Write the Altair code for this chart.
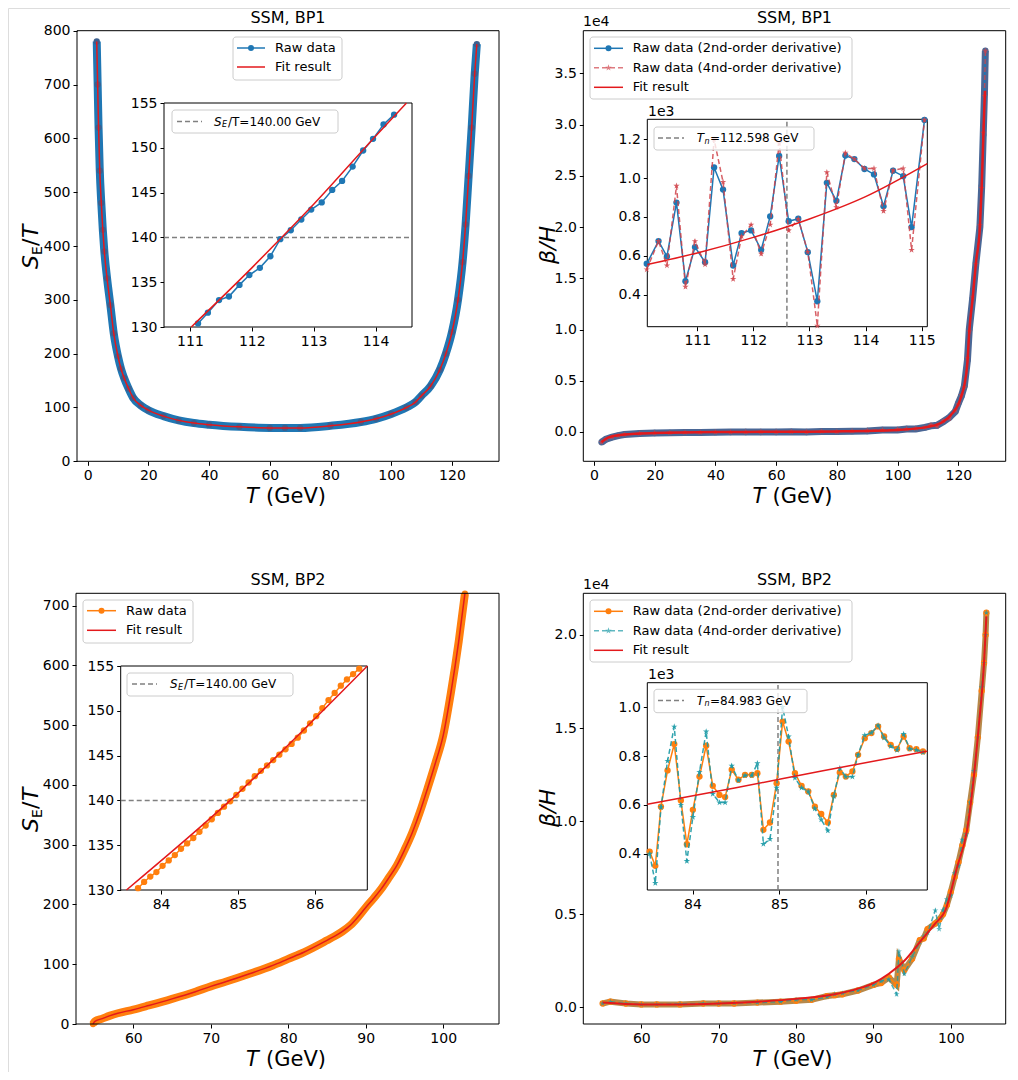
import altair as alt
import pandas as pd

FONT = "DejaVu Sans"
W, H = 1002, 1064
BLUE, ORANGE, RED = "#1f77b4", "#ff7f0e", "#e3191c"
STARC_R, STARC_T = "#d0434a", "#1c9aa6"
STAR = "M0,-1L0.2245,-0.309L0.951,-0.309L0.363,0.118L0.588,0.809L0,0.382L-0.588,0.809L-0.363,0.118L-0.951,-0.309L-0.2245,-0.309Z"

# ---------------- data: BP1, S_E/T ----------------
TL_T = [3.0, 3.3, 3.6, 4.0, 4.5, 5.0, 5.5, 6.4, 7.5, 8.6, 10, 11, 12, 13.5, 15, 17.5, 20, 25, 30, 35, 40, 50, 60, 65, 70, 80, 90, 95, 100, 105, 108, 110, 113, 116, 118, 120, 122, 123.5, 124.5, 125.5, 126.5, 127.5, 128.2]
TL_S = [780, 700, 620, 540, 480, 430, 390, 340, 290, 238, 195, 172, 155, 135, 118, 104, 95, 84, 76, 71, 68, 64, 62, 62, 62, 66, 73, 79, 88, 100, 110, 122, 140, 170, 200, 240, 300, 370, 440, 530, 620, 720, 775]
TLI_T = [111.13, 111.29, 111.47, 111.63, 111.80, 111.96, 112.13, 112.30, 112.46, 112.63, 112.80, 112.96, 113.13, 113.30, 113.46, 113.63, 113.80, 113.96, 114.13, 114.30]
TLI_S = [130.4, 131.6, 133.0, 133.4, 134.7, 135.8, 136.6, 137.9, 139.8, 140.8, 142.0, 143.1, 143.9, 145.3, 146.3, 147.9, 149.7, 151.0, 152.6, 153.7]
TLI_FT = [111.02, 112.0, 112.47, 113.0, 114.0, 114.5]
TLI_FS = [130.0, 136.6, 139.9, 143.7, 151.3, 155.0]

# ---------------- data: BP1, beta/H (1e4) ----------------
TR_T = [2.5, 4, 6, 8, 10, 15, 20, 25, 30, 35, 40, 45, 50, 55, 60, 65, 70, 75, 80, 85, 90, 95, 100, 103, 106, 109, 111, 113, 115, 117, 119, 120, 121, 122, 123, 123.6, 124.7, 125.8, 127.1, 127.7, 128.2, 128.6, 128.9]
TR_V2 = [-0.1, -0.07, -0.05, -0.035, -0.025, -0.015, -0.01, -0.008, -0.005, -0.004, -0.002, -0.001, 0.0, 0.0, 0.0, 0.002, 0.0, 0.005, 0.004, 0.008, 0.01, 0.02, 0.02, 0.03, 0.03, 0.045, 0.06, 0.065, 0.1, 0.14, 0.2, 0.28, 0.35, 0.45, 0.7, 1.0, 1.3, 1.65, 2.0, 2.4, 2.9, 3.3, 3.72]
TR_V4 = [-0.1, -0.07, -0.05, -0.035, -0.025, -0.015, -0.01, -0.008, -0.004, -0.004, -0.001, -0.001, 0.0, 0.002, 0.0, 0.003, 0.0, 0.006, 0.003, 0.01, 0.012, 0.018, 0.025, 0.03, 0.035, 0.045, 0.07, 0.055, 0.11, 0.13, 0.21, 0.27, 0.36, 0.44, 0.72, 0.98, 1.32, 1.64, 2.02, 2.38, 2.92, 3.28, 3.72]
TR_FT = [2.5, 5, 10, 20, 40, 60, 80, 100, 110, 115, 118, 120, 121, 122, 123, 123.6, 124.7, 125.8, 127.1, 127.7, 128.2, 128.6, 128.8]
TR_FV = [-0.1, -0.05, -0.025, -0.01, 0.0, 0.002, 0.006, 0.02, 0.05, 0.1, 0.18, 0.27, 0.35, 0.46, 0.68, 0.98, 1.3, 1.65, 2.0, 2.4, 2.85, 3.2, 3.33]
TRI_T = [110.10, 110.31, 110.46, 110.63, 110.79, 110.96, 111.14, 111.30, 111.46, 111.64, 111.79, 111.96, 112.14, 112.30, 112.46, 112.63, 112.80, 112.97, 113.14, 113.31, 113.48, 113.64, 113.80, 113.98, 114.15, 114.32, 114.49, 114.67, 114.82, 115.05]
TRI_V2 = [0.559, 0.676, 0.597, 0.874, 0.469, 0.645, 0.567, 1.055, 0.941, 0.550, 0.717, 0.731, 0.631, 0.803, 1.114, 0.778, 0.791, 0.619, 0.366, 0.976, 0.883, 1.116, 1.098, 1.047, 1.019, 0.855, 1.038, 1.010, 0.748, 1.300]
TRI_V4 = [0.530, 0.676, 0.550, 0.960, 0.440, 0.675, 0.555, 1.200, 0.980, 0.480, 0.700, 0.760, 0.610, 0.760, 1.180, 0.730, 0.790, 0.620, 0.240, 1.030, 0.850, 1.130, 1.098, 1.050, 1.050, 0.830, 1.040, 1.050, 0.630, 1.300]
TRI_FT = [110.11, 111.0, 112.0, 112.6, 113.0, 114.0, 115.1]
TRI_FV = [0.555, 0.615, 0.695, 0.75, 0.79, 0.905, 1.075]
TN1 = 112.598

# ---------------- data: BP2, S_E/T ----------------
BL_T = [54.8, 55, 56, 57, 58, 60, 62, 65, 68, 70, 72, 75, 78, 80, 82, 85, 86, 87, 88, 89, 90, 91, 92, 93, 94, 95, 96, 97, 98, 99, 100, 101, 102, 102.8]
BL_S = [0, 4, 9, 14, 18, 24, 31, 42, 54, 63, 71, 84, 98, 109, 120, 140, 147, 155, 165, 179, 195, 210, 226, 245, 265, 291, 320, 355, 395, 437, 483, 555, 640, 720]
BLI_T = [83.70, 83.78, 83.86, 83.94, 84.02, 84.10, 84.18, 84.26, 84.34, 84.42, 84.50, 84.58, 84.66, 84.74, 84.82, 84.90, 84.98, 85.06, 85.14, 85.22, 85.30, 85.38, 85.46, 85.54, 85.62, 85.70, 85.78, 85.86, 85.94, 86.02, 86.10, 86.18, 86.26, 86.34, 86.42, 86.50, 86.58]
BLI_S = [130.2, 130.9, 131.5, 132.0, 132.7, 133.3, 133.9, 134.6, 135.2, 135.8, 136.5, 137.2, 137.9, 138.6, 139.3, 139.9, 140.6, 141.3, 142.0, 142.7, 143.3, 143.9, 144.5, 145.1, 145.7, 146.3, 147.0, 147.8, 148.6, 149.4, 150.3, 151.2, 152.0, 152.8, 153.5, 154.1, 154.7]
BLI_FT = [83.55, 84.9, 86.685]
BLI_FS = [130.0, 140.0, 155.0]

# ---------------- data: BP2, beta/H (1e4) ----------------
BR_T = [55, 56, 58, 60, 62, 65, 68, 70, 72, 75, 78, 80, 82, 84, 85, 86, 88, 90, 91, 92, 93, 93.3, 94, 95, 96, 96.5, 97, 98, 98.5, 99, 99.5, 100, 100.5, 101, 101.5, 102, 102.5, 103, 103.5, 104, 104.3, 104.5, 104.6]
BR_V2 = [0.02, 0.03, 0.02, 0.015, 0.015, 0.015, 0.02, 0.02, 0.02, 0.025, 0.03, 0.035, 0.04, 0.06, 0.065, 0.07, 0.09, 0.12, 0.13, 0.16, 0.12, 0.26, 0.2, 0.26, 0.36, 0.37, 0.42, 0.45, 0.47, 0.5, 0.55, 0.62, 0.7, 0.78, 0.87, 0.95, 1.1, 1.25, 1.45, 1.7, 1.85, 2.0, 2.12]
BR_V4 = [0.02, 0.03, 0.02, 0.015, 0.015, 0.018, 0.02, 0.02, 0.022, 0.025, 0.03, 0.04, 0.04, 0.055, 0.07, 0.075, 0.09, 0.12, 0.14, 0.15, 0.07, 0.3, 0.18, 0.27, 0.35, 0.38, 0.4, 0.52, 0.42, 0.52, 0.58, 0.6, 0.72, 0.76, 0.9, 0.93, 1.1, 1.27, 1.45, 1.72, 1.85, 2.0, 2.12]
BR_FT = [55, 60, 65, 70, 75, 80, 85, 88, 90, 92, 94, 96, 98, 99.3, 100.8, 102.1, 103.6, 104.3, 104.6]
BR_FV = [0.025, 0.015, 0.015, 0.02, 0.03, 0.045, 0.07, 0.1, 0.13, 0.18, 0.25, 0.35, 0.45, 0.52, 0.75, 0.95, 1.5, 1.85, 2.1]
BRI_T = [83.507, 83.572, 83.637, 83.713, 83.790, 83.866, 83.935, 84.004, 84.080, 84.157, 84.233, 84.310, 84.375, 84.451, 84.528, 84.604, 84.681, 84.746, 84.815, 84.891, 84.967, 85.036, 85.105, 85.178, 85.254, 85.331, 85.407, 85.480, 85.556, 85.625, 85.694, 85.763, 85.839, 85.904, 85.981, 86.057, 86.134, 86.203, 86.279, 86.352, 86.428, 86.497, 86.574, 86.650]
BRI_V2 = [0.409, 0.351, 0.593, 0.741, 0.849, 0.618, 0.439, 0.580, 0.716, 0.842, 0.678, 0.641, 0.632, 0.744, 0.703, 0.723, 0.723, 0.730, 0.498, 0.528, 0.689, 0.941, 0.859, 0.730, 0.678, 0.655, 0.593, 0.563, 0.528, 0.641, 0.733, 0.716, 0.737, 0.805, 0.873, 0.894, 0.921, 0.880, 0.846, 0.829, 0.880, 0.832, 0.828, 0.819]
BRI_V4 = [0.40, 0.28, 0.59, 0.78, 0.92, 0.60, 0.37, 0.55, 0.735, 0.90, 0.645, 0.61, 0.61, 0.76, 0.70, 0.72, 0.72, 0.77, 0.44, 0.46, 0.67, 1.00, 0.88, 0.71, 0.67, 0.655, 0.585, 0.54, 0.495, 0.635, 0.75, 0.715, 0.715, 0.805, 0.885, 0.895, 0.925, 0.875, 0.84, 0.825, 0.89, 0.83, 0.825, 0.815]
BRI_FT = [83.48, 84.5, 85.5, 86.7]
BRI_FV = [0.603, 0.67, 0.74, 0.82]
TN2 = 84.983

DUMMY = pd.DataFrame({"a": [0]})


def df(x, y):
    return pd.DataFrame({"x": x, "y": y})


def sc(dom, rng):
    return alt.Scale(domain=dom, range=rng, nice=False, zero=False, clamp=False)


def axis_x(vals, ybot, fmt=None):
    kw = dict(orient="bottom", offset=ybot - H, values=vals, grid=False, domain=False,
              tickColor="black", tickSize=4, labelFontSize=14, labelColor="black",
              labelFont=FONT, title=None, labelFlush=False, labelOverlap=False, labelPadding=3)
    if fmt:
        kw["format"] = fmt
    return alt.Axis(**kw)


def axis_y(vals, xleft, fmt=None):
    kw = dict(orient="left", offset=-xleft, values=vals, grid=False, domain=False,
              tickColor="black", tickSize=4, labelFontSize=14, labelColor="black",
              labelFont=FONT, title=None, labelFlush=False, labelOverlap=False, labelPadding=3)
    if fmt:
        kw["format"] = fmt
    return alt.Axis(**kw)


class Panel:
    def __init__(self, xdom, ydom, box, xt, yt, xfmt=None, yfmt=None):
        x0, y0, x1, y1 = box
        self.xs = sc(xdom, [x0, x1])
        self.ys = sc(ydom, [y1, y0])
        self.xa = axis_x(xt, y1, xfmt)
        self.ya = axis_y(yt, x0, yfmt)

    def X(self, f="x"):
        return alt.X(f"{f}:Q", scale=self.xs, axis=self.xa)

    def Y(self, f="y"):
        return alt.Y(f"{f}:Q", scale=self.ys, axis=self.ya)

    def line(self, d, color, width=1.5, opacity=1.0):
        return alt.Chart(d).mark_line(color=color, strokeWidth=width, opacity=opacity,
                                      interpolate="monotone").encode(x=self.X(), y=self.Y())

    def pline(self, d, color, width=1.5, dash=None, opacity=1.0):
        kw = dict(color=color, strokeWidth=width, opacity=opacity)
        if dash:
            kw["strokeDash"] = dash
        return alt.Chart(d).mark_line(**kw).encode(x=self.X(), y=self.Y())

    def pts(self, d, color, shape="circle", size=30, opacity=1.0):
        return alt.Chart(d).mark_point(filled=True, shape=shape, size=size, color=color,
                                       opacity=opacity, strokeWidth=0).encode(x=self.X(), y=self.Y())

    def hrule(self, yv, xa, xb):
        d = pd.DataFrame({"x": [xa], "x2": [xb], "y": [yv]})
        return alt.Chart(d).mark_rule(color="gray", strokeDash=[5, 3], strokeWidth=1.5).encode(
            x=self.X(), x2="x2:Q", y=self.Y())

    def vrule(self, xv, ya, yb):
        d = pd.DataFrame({"x": [xv], "y": [ya], "y2": [yb]})
        return alt.Chart(d).mark_rule(color="gray", strokeDash=[5, 3], strokeWidth=1.5).encode(
            x=self.X(), y=self.Y(), y2="y2:Q")


def frame(box, fill=False):
    x0, y0, x1, y1 = box
    return alt.Chart(DUMMY).mark_rect(fill="white", fillOpacity=1.0 if fill else 0.0,
                                      stroke="black", strokeWidth=1).encode(
        x=alt.value(x0), x2=alt.value(x1), y=alt.value(y0), y2=alt.value(y1))


def lbox(x0, y0, x1, y1):
    return alt.Chart(DUMMY).mark_rect(fill="white", fillOpacity=0.8, stroke="#cccccc",
                                      strokeWidth=1, cornerRadius=3).encode(
        x=alt.value(x0), x2=alt.value(x1), y=alt.value(y0), y2=alt.value(y1))


def txt(x, y, t, size=13, italic=False, angle=0, align="left", baseline="middle"):
    kw = dict(text=t, font=FONT, fontSize=size, color="black", align=align, baseline=baseline)
    if italic:
        kw["fontStyle"] = "italic"
    if angle:
        kw["angle"] = angle
    return alt.Chart(DUMMY).mark_text(**kw).encode(x=alt.value(x), y=alt.value(y))


def lseg(xa, xb, y, color, dash=None, opacity=1.0):
    kw = dict(color=color, strokeWidth=1.5, opacity=opacity)
    if dash:
        kw["strokeDash"] = dash
    return alt.Chart(DUMMY).mark_rule(**kw).encode(x=alt.value(xa), x2=alt.value(xb), y=alt.value(y))


def lmark(x, y, color, shape="circle", size=36, opacity=1.0):
    return alt.Chart(DUMMY).mark_point(filled=True, shape=shape, size=size, color=color,
                                       opacity=opacity, strokeWidth=0).encode(x=alt.value(x), y=alt.value(y))


layers = []

# ===== TL =====
B = (69, 22.7, 491, 453.3)
p = Panel([-3.5, 135.5], [0, 800], B, [0, 20, 40, 60, 80, 100, 120], list(range(0, 801, 100)))
d = df(TL_T, TL_S)
layers.append(alt.layer(p.line(d, BLUE, 8), p.pts(d, "#3c5f8e", size=40), p.line(d, RED, 1.5)))
BI = (156, 95, 404, 319)
q = Panel([110.58, 114.59], [130, 155], BI, [111, 112, 113, 114], [130, 135, 140, 145, 150, 155])
layers.append(frame(BI, True))
di = df(TLI_T, TLI_S)
layers.append(alt.layer(q.hrule(140, 110.58, 114.59), q.pline(di, BLUE, 1.5), q.pts(di, BLUE, size=40),
                        q.line(df(TLI_FT, TLI_FS), RED, 1.5)))
layers.append(frame(B))

# ===== TR =====
B = (575.3, 22.7, 997.7, 453.3)
p = Panel([-3.5, 135.6], [-0.286, 3.916], B, [0, 20, 40, 60, 80, 100, 120],
          [0, 0.5, 1.0, 1.5, 2.0, 2.5, 3.0, 3.5], yfmt=".1f")
d2, d4 = df(TR_T, TR_V2), df(TR_T, TR_V4)
layers.append(alt.layer(p.pline(d2, "#4a6796", 7), p.pline(d2, BLUE, 1.5), p.pts(d2, "#4d6794", size=40),
                        p.pline(d4, STARC_R, 1.5, [5, 3], 0.8), p.pts(d4, STARC_R, STAR, 40, 0.7),
                        p.line(df(TR_FT, TR_FV), RED, 2.5)))
BI = (639.3, 111.3, 919.3, 318.7)
q = Panel([110.11, 115.1], [0.235, 1.303], BI, [111, 112, 113, 114, 115], [0.4, 0.6, 0.8, 1.0, 1.2], yfmt=".1f")
layers.append(frame(BI, True))
d2, d4 = df(TRI_T, TRI_V2), df(TRI_T, TRI_V4)
layers.append(alt.layer(q.vrule(TN1, 0.235, 1.303), q.pline(d2, BLUE, 1.5), q.pts(d2, BLUE, size=40),
                        q.pline(d4, STARC_R, 1.5, [5, 3], 0.85), q.pts(d4, STARC_R, STAR, 45, 0.85),
                        q.line(df(TRI_FT, TRI_FV), RED, 1.5)))
layers.append(frame(B))

# ===== BL =====
B = (68, 585.3, 491, 1016)
p = Panel([52.6, 107.2], [0, 720.6], B, [60, 70, 80, 90, 100], list(range(0, 701, 100)))
d = df(BL_T, BL_S)
layers.append(alt.layer(p.line(d, ORANGE, 8), p.pts(d, ORANGE, size=40), p.line(d, RED, 1.5)))
BI = (112.7, 658, 359.3, 882)
q = Panel([83.475, 86.685], [130, 155], BI, [84, 85, 86], [130, 135, 140, 145, 150, 155])
layers.append(frame(BI, True))
di = df(BLI_T, BLI_S)
layers.append(alt.layer(q.hrule(140, 83.475, 86.685), q.pline(di, ORANGE, 1.5), q.pts(di, ORANGE, size=40),
                        q.line(df(BLI_FT, BLI_FS), RED, 1.5)))
layers.append(frame(B))

# ===== BR =====
B = (575.3, 585.3, 997.7, 1016)
p = Panel([52.5, 107.1], [-0.09, 2.224], B, [60, 70, 80, 90, 100], [0, 0.5, 1.0, 1.5, 2.0], yfmt=".1f")
d2, d4 = df(BR_T, BR_V2), df(BR_T, BR_V4)
layers.append(alt.layer(p.pline(d2, "#b7894a", 6), p.pline(d2, ORANGE, 1.5), p.pts(d2, ORANGE, size=40),
                        p.pline(d4, STARC_T, 1.5, [5, 3], 0.8), p.pts(d4, STARC_T, STAR, 40, 0.7),
                        p.line(df(BR_FT, BR_FV), RED, 2)))
BI = (639.3, 674.7, 919.3, 882)
q = Panel([83.48, 86.70], [0.252, 1.10], BI, [84, 85, 86], [0.4, 0.6, 0.8, 1.0], yfmt=".1f")
layers.append(frame(BI, True))
d2, d4 = df(BRI_T, BRI_V2), df(BRI_T, BRI_V4)
layers.append(alt.layer(q.vrule(TN2, 0.252, 1.10), q.pline(d2, ORANGE, 1.5), q.pts(d2, ORANGE, size=40),
                        q.pline(d4, STARC_T, 1.5, [5, 3], 0.9), q.pts(d4, STARC_T, STAR, 45, 0.9),
                        q.line(df(BRI_FT, BRI_FV), RED, 1.5)))
layers.append(frame(B))

# ===== decorations: titles, axis titles, legends =====
deco = []
for cx, ty, t in [(280, 10, "SSM, BP1"), (786.5, 10, "SSM, BP1"), (280, 572, "SSM, BP2"), (786.5, 572, "SSM, BP2")]:
    deco.append(txt(cx, ty, t, 16, align="center"))
for cx, by in [(280, 495), (786.5, 495), (280, 1058), (786.5, 1058)]:
    deco.append(txt(cx - 42, by, "T", 21, italic=True, baseline="alphabetic"))
    deco.append(txt(cx - 22, by, "(GeV)", 21, baseline="alphabetic"))
for cy in [237, 800]:
    deco.append(txt(30, cy + 24, "S", 22, italic=True, angle=270, baseline="alphabetic"))
    deco.append(txt(34, cy + 10, "E", 14, angle=270, baseline="alphabetic"))
    deco.append(txt(30, cy + 1, "/", 22, angle=270, baseline="alphabetic"))
    deco.append(txt(30, cy - 7, "T", 22, italic=True, angle=270, baseline="alphabetic"))
for cy in [237, 800]:
    deco.append(txt(547, cy, "β/H", 22, italic=True, angle=270, align="center", baseline="alphabetic"))
deco += [txt(575, 14, "1e4", 14), txt(575, 577, "1e4", 14), txt(640, 104, "1e3", 14), txt(640, 667, "1e3", 14)]

deco += [lbox(225, 29, 334, 72), lseg(229, 257, 40, BLUE), lmark(243, 40, BLUE), txt(267, 40, "Raw data"),
         lseg(229, 257, 59, RED), txt(267, 59, "Fit result")]
deco += [lbox(164, 102, 330, 125), lseg(169, 194, 113.5, "gray", [5, 3]),
         txt(206, 113.5, "S", 12, italic=True), txt(214, 117, "E", 8, italic=True), txt(220, 113.5, "/T=140.00 GeV", 12)]
for oy, c2, c4 in [(0, BLUE, STARC_R), (563, ORANGE, STARC_T)]:
    deco += [lbox(582, 29 + oy, 844, 91 + oy),
             lseg(586, 615, 40.3 + oy, c2), lmark(600.5, 40.3 + oy, c2), txt(624.7, 40.3 + oy, "Raw data (2nd-order derivative)"),
             lseg(586, 615, 59.7 + oy, c4, [5, 3], 0.7), lmark(600.5, 59.7 + oy, c4, STAR, 45, 0.7),
             txt(624.7, 59.7 + oy, "Raw data (4nd-order derivative)"),
             lseg(586, 615, 79.3 + oy, RED), txt(624.7, 79.3 + oy, "Fit result")]
deco += [lbox(646, 119, 806, 142), lseg(650, 676, 130, "gray", [5, 3]),
         txt(688.7, 130, "T", 12, italic=True), txt(696.5, 133.5, "n", 8, italic=True), txt(702, 130, "=112.598 GeV", 12)]
deco += [lbox(646, 681.3, 799, 704.7), lseg(650, 676, 692.5, "gray", [5, 3]),
         txt(688.7, 692.5, "T", 12, italic=True), txt(696.5, 696, "n", 8, italic=True), txt(702, 692.5, "=84.983 GeV", 12)]
deco += [lbox(75, 592, 185, 635), lseg(79, 108, 602.7, ORANGE), lmark(93.5, 602.7, ORANGE), txt(118, 602.7, "Raw data"),
         lseg(79, 108, 622.3, RED), txt(118, 622.3, "Fit result")]
deco += [lbox(119, 665, 285, 688), lseg(124, 149, 676, "gray", [5, 3]),
         txt(162, 676, "S", 12, italic=True), txt(170, 679.5, "E", 8, italic=True), txt(176, 676, "/T=140.00 GeV", 12)]

chart = alt.layer(*layers, *deco).resolve_scale(x="independent", y="independent").properties(
    width=W, height=H, autosize="none", padding=0
).configure_view(strokeWidth=0, stroke="transparent").configure(font=FONT)

chart.save("out.html", embed_options={"renderer": "svg", "actions": False})
